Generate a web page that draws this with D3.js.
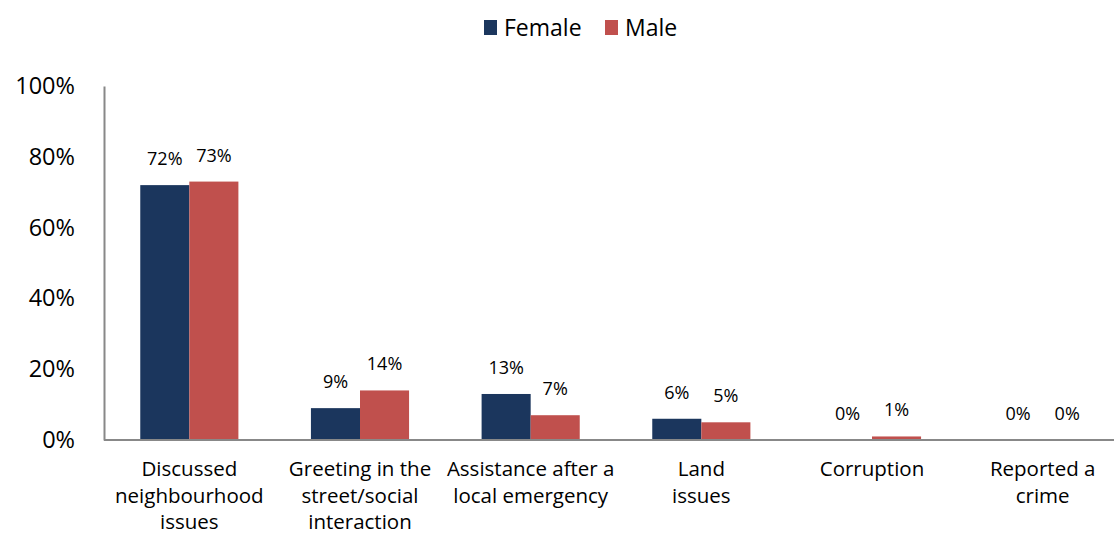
<!DOCTYPE html>
<html><head><meta charset="utf-8">
<script src="https://cdn.jsdelivr.net/npm/d3@7"></script>
<style>body{margin:0;background:#fff}svg{display:block}text{font-family:"Open Sans",sans-serif;fill:#000}</style>
</head><body><svg id="c" width="1114" height="535"></svg>
<script>
const categories = [
  ["Discussed","neighbourhood","issues"],
  ["Greeting in the","street/social","interaction"],
  ["Assistance after a","local emergency"],
  ["Land","issues"],
  ["Corruption"],
  ["Reported a","crime"]
];
const seriesNames = ["Female","Male"];
const female = [72, 9, 13, 6, 0, 0];
const male = [73, 14, 7, 5, 1, 0];
const yTicks = [0, 20, 40, 60, 80, 100];
const colors = ["#1B365D", "#C0504D"];

const svg = d3.select("#c");
const x0 = d3.scaleBand().domain(d3.range(categories.length)).range([104, 1128]).paddingInner(0.425).paddingOuter(0.2125);
const x1 = d3.scaleBand().domain(seriesNames).range([0, x0.bandwidth()]);
const y = d3.scaleLinear().domain([0, 100]).range([440, 86]);

// y axis
const yAxis = d3.axisLeft(y).tickValues(yTicks).tickSize(0).tickPadding(29).tickFormat(d => d + "%");
const ya = svg.append("g").attr("transform", "translate(104,0)").call(yAxis);
ya.select(".domain").attr("stroke", "#888").attr("stroke-width", 2);
ya.selectAll("text").style("font-size", "23.5px").attr("fill", "#000");

// bars
const data = [female, male];
seriesNames.forEach((s, si) => {
  svg.append("g").selectAll("rect").data(data[si]).join("rect")
    .attr("x", (d, i) => x0(i) + x1(s))
    .attr("width", x1.bandwidth())
    .attr("y", d => y(d))
    .attr("height", d => y(0) - y(d))
    .attr("fill", colors[si]);
  svg.append("g").selectAll("text").data(data[si]).join("text")
    .attr("x", (d, i) => x0(i) + x1(s) + x1.bandwidth() / 2)
    .attr("y", d => y(d) - 20)
    .attr("text-anchor", "middle")
    .style("font-size", "18px")
    .text(d => d + "%");
});

// x axis
const xAxis = d3.axisBottom(x0).tickSize(0).tickFormat("");
const xa = svg.append("g").attr("transform", "translate(0,440)").call(xAxis);
xa.select(".domain").attr("stroke", "#888").attr("stroke-width", 2).attr("d", "M104,0H1114");

// category labels
categories.forEach((lines, i) => {
  const t = svg.append("text").attr("text-anchor", "middle").style("font-size", "20.5px");
  lines.forEach((l, j) => {
    t.append("tspan").attr("x", x0(i) + x0.bandwidth() / 2).attr("y", 476 + j * 26.5).text(l);
  });
});

// legend
const lg = svg.append("g");
const legX = [484, 605];
seriesNames.forEach((s, i) => {
  lg.append("rect").attr("x", legX[i]).attr("y", 20).attr("width", 13).attr("height", 15).attr("fill", colors[i]);
  lg.append("text").attr("x", legX[i] + 20).attr("y", 36).style("font-size", "23px").text(s);
});
</script></body></html>
